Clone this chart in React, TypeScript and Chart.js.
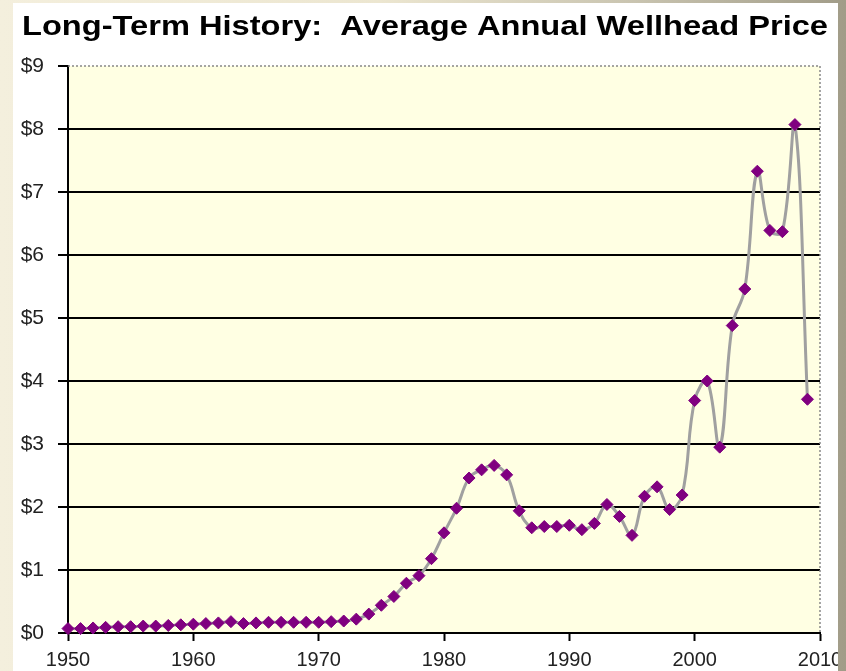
import React, { useEffect, useRef } from "react";
import { Chart, registerables } from "chart.js";

Chart.register(...registerables);

const years = [
  1950, 1951, 1952, 1953, 1954, 1955, 1956, 1957, 1958, 1959,
  1960, 1961, 1962, 1963, 1964, 1965, 1966, 1967, 1968, 1969,
  1970, 1971, 1972, 1973, 1974, 1975, 1976, 1977, 1978, 1979,
  1980, 1981, 1982, 1983, 1984, 1985, 1986, 1987, 1988, 1989,
  1990, 1991, 1992, 1993, 1994, 1995, 1996, 1997, 1998, 1999,
  2000, 2001, 2002, 2003, 2004, 2005, 2006, 2007, 2008, 2009,
];

const prices = [
  0.07, 0.07, 0.08, 0.09, 0.1, 0.1, 0.11, 0.11, 0.12, 0.13,
  0.14, 0.15, 0.16, 0.18, 0.15, 0.16, 0.17, 0.17, 0.17, 0.17,
  0.17, 0.18, 0.19, 0.22, 0.3, 0.44, 0.58, 0.79, 0.91, 1.18,
  1.59, 1.98, 2.46, 2.59, 2.66, 2.51, 1.94, 1.67, 1.69, 1.69,
  1.71, 1.64, 1.74, 2.04, 1.85, 1.55, 2.17, 2.32, 1.96, 2.19,
  3.69, 4.0, 2.95, 4.88, 5.46, 7.33, 6.39, 6.37, 8.07, 3.71,
];

const titleText = "Long-Term History:  Average Annual Wellhead Price";
const yMin = 0;
const yMax = 9;
const xMin = 1950;
const xMax = 2010;

const FONT = "'Liberation Sans', Arial, Helvetica, sans-serif";

export default function App() {
  const canvasRef = useRef<HTMLCanvasElement | null>(null);

  useEffect(() => {
    document.body.style.margin = "0";
    const canvas = canvasRef.current;
    if (!canvas) return;

    const bgPlugin = {
      id: "plotBg",
      beforeDraw(chart: any) {
        const { ctx, chartArea } = chart;
        ctx.save();
        ctx.fillStyle = "#FFFFE3";
        ctx.fillRect(chartArea.left, chartArea.top, chartArea.right - chartArea.left, chartArea.bottom - chartArea.top);
        ctx.restore();
      },
      afterDraw(chart: any) {
        const { ctx, chartArea } = chart;
        ctx.save();
        ctx.strokeStyle = "#888";
        ctx.lineWidth = 1.5;
        ctx.setLineDash([2, 2]);
        ctx.beginPath();
        ctx.moveTo(chartArea.left, chartArea.top);
        ctx.lineTo(chartArea.right, chartArea.top);
        ctx.lineTo(chartArea.right, chartArea.bottom);
        ctx.stroke();
        ctx.restore();

        // Title, horizontally stretched like the reference image
        ctx.save();
        ctx.font = `bold 28px ${FONT}`;
        ctx.fillStyle = "#000";
        ctx.textBaseline = "alphabetic";
        const w = ctx.measureText(titleText).width;
        const targetW = 806;
        const sx = targetW / w;
        const cx = 412;
        ctx.translate(cx - targetW / 2, 32);
        ctx.scale(sx, 1);
        ctx.fillText(titleText, 0, 0);
        ctx.restore();
      },
    };

    const chart = new Chart(canvas, {
      type: "line",
      data: {
        datasets: [
          {
            data: years.map((y, i) => ({ x: y, y: prices[i] })),
            borderColor: "#A0A0A0",
            borderWidth: 3,
            tension: 0.4,
            pointStyle: "rectRot",
            pointRadius: 6,
            pointBackgroundColor: "#800080",
            pointBorderColor: "#800080",
            pointBorderWidth: 1,
            clip: false,
          },
        ],
      },
      options: {
        responsive: false,
        animation: false,
        layout: { padding: { left: 0, right: 18, top: 63, bottom: 0 } },
        plugins: {
          legend: { display: false },
          tooltip: { enabled: false },
          title: { display: false },
        },
        scales: {
          x: {
            type: "linear",
            min: xMin,
            max: xMax,
            afterFit(scale: any) {
              scale.height = 38;
              scale.paddingRight = 0;
              scale.paddingLeft = 0;
            },
            ticks: {
              stepSize: 10,
              color: "#222",
              font: { family: FONT, size: 20 },
              padding: 7,
              maxRotation: 0,
              callback: (v: any) => String(v),
            },
            grid: {
              drawOnChartArea: false,
              drawTicks: true,
              tickLength: 8,
              tickColor: "#000",
              tickWidth: 2,
            },
            border: { display: true, color: "#000", width: 2 },
          },
          y: {
            min: yMin,
            max: yMax,
            afterFit(scale: any) {
              scale.width = 55;
              scale.paddingTop = 0;
              scale.paddingBottom = 0;
            },
            ticks: {
              stepSize: 1,
              color: "#222",
              font: { family: FONT, size: 21 },
              padding: 14,
              callback: (v: any) => "$" + v,
            },
            grid: {
              color: (c: any) => (c.index === 9 ? "rgba(0,0,0,0)" : "#000"),
              lineWidth: 2,
              tickColor: "#000",
              tickLength: 10,
              tickWidth: 2,
            },
            border: { display: true, color: "#000", width: 2 },
          },
        },
      },
      plugins: [bgPlugin],
    } as any);

    return () => chart.destroy();
  }, []);

  return (
    <div
      style={{
        position: "absolute",
        left: 0,
        top: 0,
        width: 846,
        height: 671,
        overflow: "hidden",
        background: "linear-gradient(to right, #F4EFDD 0%, #ECE6D0 45%, #C9C4B0 75%, #A19C88 100%)",
      }}
    >
      <div
        style={{
          position: "absolute",
          left: 13,
          top: 3,
          width: 825,
          height: 668,
          background: "#fff",
        }}
      >
        <canvas ref={canvasRef} width={825} height={668} style={{ display: "block" }} />
      </div>
    </div>
  );
}
